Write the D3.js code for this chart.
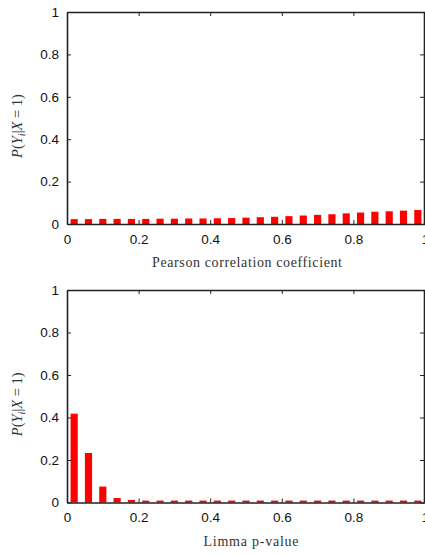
<!DOCTYPE html>
<html>
<head>
<meta charset="utf-8">
<script src="https://cdn.jsdelivr.net/npm/d3@7"></script>
<style>
  body { margin: 0; background: #fff; }
  svg { display: block; }
</style>
</head>
<body>
<div id="chart"></div>
<script>
// bin centres (bin width 0.04)
var binCenters = [0.02, 0.06, 0.10, 0.14, 0.18, 0.22, 0.26, 0.30, 0.34, 0.38,
                  0.42, 0.46, 0.50, 0.54, 0.58, 0.62, 0.66, 0.70, 0.74, 0.78,
                  0.82, 0.86, 0.90, 0.94, 0.98];

var pearsonValues = [0.023, 0.023, 0.024, 0.024, 0.024, 0.024, 0.025, 0.025, 0.026, 0.026,
                     0.027, 0.028, 0.030, 0.032, 0.034, 0.037, 0.040, 0.043, 0.046, 0.050,
                     0.054, 0.058, 0.060, 0.063, 0.066];

var limmaValues = [0.418, 0.233, 0.075, 0.021, 0.012, 0.009, 0.009, 0.009, 0.009, 0.009,
                   0.009, 0.009, 0.009, 0.009, 0.009, 0.009, 0.009, 0.009, 0.009, 0.009,
                   0.009, 0.009, 0.009, 0.009, 0.009];

var xTicks = [0, 0.2, 0.4, 0.6, 0.8, 1];
var yTicks = [0, 0.2, 0.4, 0.6, 0.8, 1];
var binWidth = 0.04;

var W = 425, H = 555;

var svg = d3.select("#chart")
  .append("svg")
  .attr("width", W)
  .attr("height", H);

var x = d3.scaleLinear().domain([0, 1]).range([67, 425]);

function fmt(d) { return d === 0 ? "0" : d === 1 ? "1" : d3.format(".1f")(d); }

function drawPanel(top, bottom, values, xLabelText, xLabelX, xLabelLen) {
  var y = d3.scaleLinear().domain([0, 1]).range([bottom, top]);
  var g = svg.append("g");

  // bars
  g.selectAll("rect")
    .data(values)
    .enter()
    .append("rect")
    .attr("fill", "#ff0000")
    .attr("x", function (d, i) { return x(binCenters[i] - binWidth / 4); })
    .attr("width", function (d, i) { return x(binCenters[i] + binWidth / 4) - x(binCenters[i] - binWidth / 4); })
    .attr("y", function (d) { return y(d); })
    .attr("height", function (d) { return y(0) - y(d); });

  // bottom axis, ticks inward
  var xAxis = g.append("g")
    .attr("transform", "translate(0," + bottom + ")")
    .call(d3.axisBottom(x).tickValues(xTicks).tickFormat(fmt).tickSizeInner(-4).tickSizeOuter(0).tickPadding(10));
  // top axis, ticks inward, no labels
  var xTop = g.append("g")
    .attr("transform", "translate(0," + top + ")")
    .call(d3.axisTop(x).tickValues(xTicks).tickFormat("").tickSizeInner(-4).tickSizeOuter(0));
  // left axis
  var yAxis = g.append("g")
    .attr("transform", "translate(" + x(0) + ",0)")
    .call(d3.axisLeft(y).tickValues(yTicks).tickFormat(fmt).tickSizeInner(-4).tickSizeOuter(0).tickPadding(8));
  // right axis
  var yRight = g.append("g")
    .attr("transform", "translate(" + (x(1) - 1) + ",0)")
    .call(d3.axisRight(y).tickValues(yTicks).tickFormat("").tickSizeInner(-4).tickSizeOuter(0));

  [xAxis, xTop, yAxis, yRight].forEach(function (a) {
    a.select(".domain").attr("stroke", "#222").attr("stroke-width", 1.6);
    a.selectAll(".tick line").attr("stroke", "#222").attr("stroke-width", 1);
    a.selectAll("text")
      .attr("font-family", "Liberation Sans, Arial, sans-serif")
      .attr("font-size", "13.5px")
      .attr("fill", "#111");
  });

  // x label
  g.append("text")
    .attr("x", xLabelX)
    .attr("y", bottom + 43)
    .attr("text-anchor", "middle")
    .attr("font-family", "Liberation Serif, DejaVu Serif, serif")
    .attr("font-size", "14px")
    .attr("fill", "#333")
    .attr("textLength", xLabelLen)
    .attr("lengthAdjust", "spacing")
    .text(xLabelText);

  // y label P(Y_i | X = 1)
  var cy = (top + bottom) / 2 + 8;
  var yl = g.append("text")
    .attr("transform", "translate(22," + cy + ") rotate(-90)")
    .attr("text-anchor", "middle")
    .attr("font-family", "Liberation Serif, DejaVu Serif, serif")
    .attr("font-size", "14.5px")
    .attr("fill", "#333");
  yl.append("tspan").attr("font-style", "italic").text("P");
  yl.append("tspan").text("(");
  yl.append("tspan").attr("font-style", "italic").text("Y");
  yl.append("tspan").attr("font-style", "italic").attr("font-size", "10px").attr("dy", 3).text("i");
  yl.append("tspan").attr("dy", -3).text("|");
  yl.append("tspan").attr("font-style", "italic").text("X");
  yl.append("tspan").text(" = 1)");
}

drawPanel(12, 224, pearsonValues, "Pearson correlation coefficient", 247, 190);
drawPanel(290, 502.5, limmaValues, "Limma p-value", 251, 95);
</script>
</body>
</html>
